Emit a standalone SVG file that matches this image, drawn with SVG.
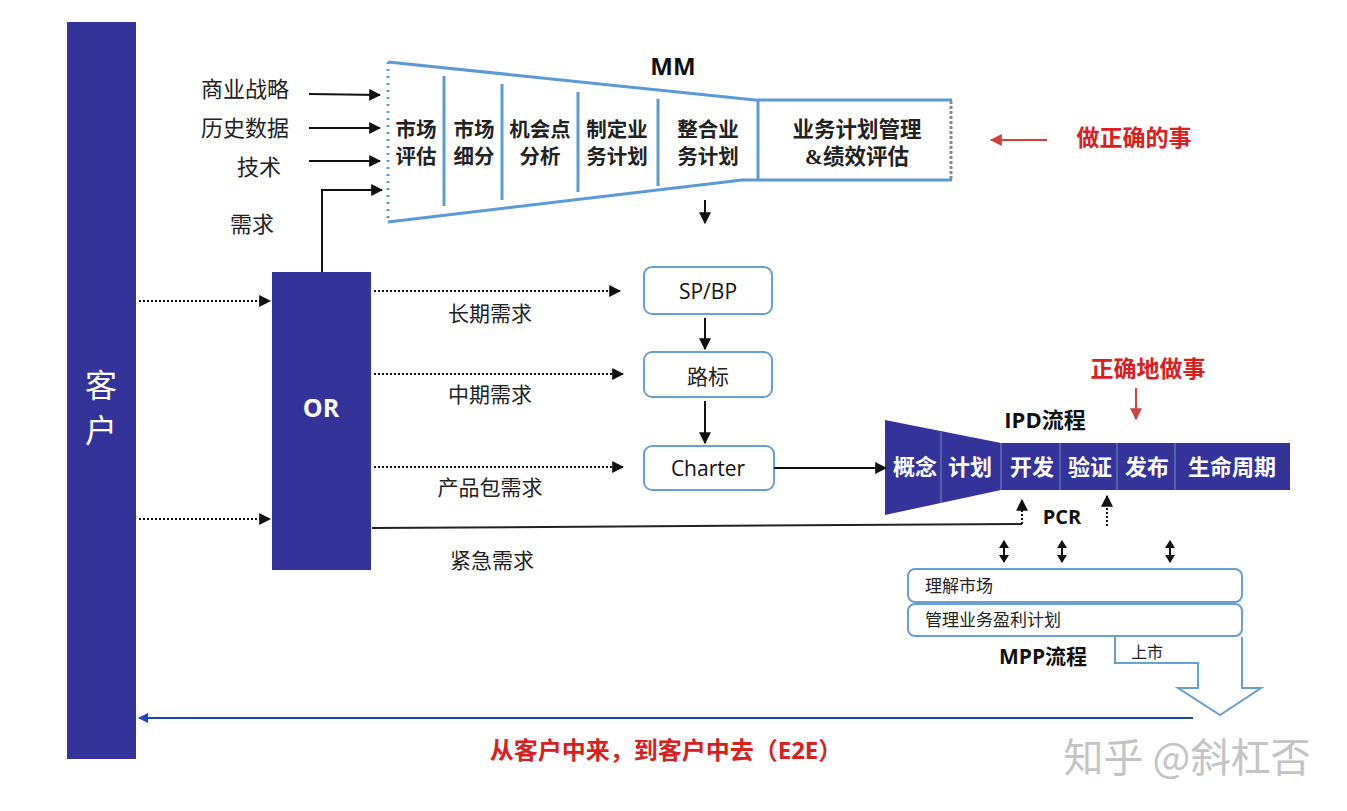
<svg xmlns="http://www.w3.org/2000/svg" width="1347" height="811" viewBox="0 0 1347 811">
<style>
.cn{font-family:"Liberation Serif","Noto Sans CJK SC",serif;fill:#222}
.b{font-family:"Open Sans","Noto Sans CJK SC",sans-serif;font-weight:bold;fill:#111}
.red{fill:#d92020;font-family:"Liberation Serif","Noto Sans CJK SC",serif;font-weight:bold}
.ln{stroke:#111;stroke-width:2;fill:none}
.dot{stroke:#111;stroke-width:2;stroke-dasharray:2 2;fill:none}
.mm{stroke:#5b9bd5;stroke-width:3;fill:none}
.box{fill:#fff;stroke:#6aa0d0;stroke-width:2}
.navy{fill:#333399}
.div{stroke:#7f8fc0;stroke-width:1}
</style>
<defs>
<marker id="ah" viewBox="0 0 10 10" refX="9" refY="5" markerWidth="6" markerHeight="6" orient="auto"><path d="M0,0 L10,5 L0,10 z" fill="#111"/></marker>
<marker id="ahr" viewBox="0 0 10 10" refX="9" refY="5" markerWidth="6" markerHeight="6" orient="auto"><path d="M0,0 L10,5 L0,10 z" fill="#d04040"/></marker>
<marker id="ahb" viewBox="0 0 10 10" refX="9" refY="5" markerWidth="5" markerHeight="5" orient="auto"><path d="M0,0 L10,5 L0,10 z" fill="#1f44c0"/></marker>
</defs>

<g id="customer">
<rect x="67" y="22" width="69" height="737" class="navy"/>
<text x="101" y="397" font-size="32" text-anchor="middle" class="cn" style="fill:#fff">客</text>
<text x="101" y="442" font-size="32" text-anchor="middle" class="cn" style="fill:#fff">户</text>
</g>

<g id="or">
<rect x="272" y="272" width="99" height="298" class="navy"/>
<text x="321" y="417" font-size="25" text-anchor="middle" class="b" style="fill:#fff">OR</text>
</g>

<g id="inputs" font-size="22" text-anchor="middle">
<text x="245" y="97" class="cn">商业战略</text>
<text x="245" y="136" class="cn">历史数据</text>
<text x="259" y="175" class="cn">技术</text>
<text x="252" y="232" class="cn">需求</text>
</g>

<g id="mm">
<line x1="388" y1="62" x2="388" y2="222" stroke="#5b9bd5" stroke-width="3" stroke-dasharray="2 5"/>
<polyline points="388,62 755,100 952,100" class="mm"/>
<polyline points="388,222 742,180 952,180" class="mm"/>
<line x1="758" y1="100" x2="758" y2="180" class="mm"/>
<line x1="951" y1="101" x2="951" y2="179" stroke="#888" stroke-width="3" stroke-dasharray="3 2"/>
<line x1="444" y1="76" x2="444" y2="206" class="mm"/>
<line x1="502" y1="84" x2="502" y2="200" class="mm"/>
<line x1="578" y1="92" x2="578" y2="192" class="mm"/>
<line x1="658" y1="99" x2="658" y2="186" class="mm"/>
<text x="673" y="75" font-size="24" text-anchor="middle" class="b">MM</text>
<g font-size="20.5" text-anchor="middle" class="cn" font-weight="bold">
<text x="416" y="137">市场</text><text x="416" y="164">评估</text>
<text x="474" y="137">市场</text><text x="474" y="164">细分</text>
<text x="540" y="137">机会点</text><text x="540" y="164">分析</text>
<text x="617" y="137">制定业</text><text x="617" y="164">务计划</text>
<text x="708" y="137">整合业</text><text x="708" y="164">务计划</text>
</g>
<g font-size="21.5" text-anchor="middle" class="cn" font-weight="bold">
<text x="857" y="137">业务计划管理</text><text x="857" y="164">&amp;绩效评估</text>
</g>
</g>

<g id="right-thing">
<text x="1134" y="146" font-size="23" text-anchor="middle" class="red">做正确的事</text>
</g>

<g id="spbp"><rect x="644" y="267" width="128" height="47" rx="8" class="box"/>
<text x="708" y="299" font-size="21" text-anchor="middle" font-family="Open Sans,sans-serif" fill="#111">SP/BP</text></g>
<g id="roadmap"><rect x="644" y="352" width="128" height="45" rx="8" class="box"/>
<text x="708" y="384" font-size="21" text-anchor="middle" class="cn">路标</text></g>
<g id="charter"><rect x="644" y="446" width="130" height="44" rx="8" class="box"/>
<text x="708" y="476" font-size="21" text-anchor="middle" font-family="Open Sans,sans-serif" fill="#111">Charter</text></g>

<g id="demand-labels" font-size="21" text-anchor="middle">
<text x="490" y="321" class="cn">长期需求</text>
<text x="490" y="402" class="cn">中期需求</text>
<text x="490" y="495" class="cn">产品包需求</text>
<text x="492" y="568" class="cn">紧急需求</text>
</g>

<g id="ipd">
<path d="M885,420 L1001,443 L1290,443 L1290,490 L1001,490 L885,515 Z" class="navy"/>
<line x1="941" y1="432" x2="941" y2="503" class="div"/>
<line x1="1001" y1="443" x2="1001" y2="490" class="div"/>
<line x1="1060" y1="443" x2="1060" y2="490" class="div"/>
<line x1="1117" y1="443" x2="1117" y2="490" class="div"/>
<line x1="1175" y1="443" x2="1175" y2="490" class="div"/>
<g font-size="22" text-anchor="middle" font-family="Liberation Serif,Noto Sans CJK SC,serif" font-weight="bold" fill="#fff">
<text x="915" y="475">概念</text><text x="970" y="475">计划</text><text x="1032" y="475">开发</text>
<text x="1090" y="475">验证</text><text x="1147" y="475">发布</text><text x="1232" y="475">生命周期</text>
</g>
<text x="1045" y="428" font-size="22" text-anchor="middle" class="b">IPD流程</text>
<text x="1148" y="377" font-size="23" text-anchor="middle" class="red">正确地做事</text>
<text x="1062" y="524" font-size="20" text-anchor="middle" class="b">PCR</text>
</g>

<g id="mpp">
<rect x="908" y="569" width="334" height="33" rx="7" class="box"/>
<text x="925" y="592" font-size="17" class="cn" fill="#333">理解市场</text>
<rect x="908" y="604" width="334" height="32" rx="7" class="box"/>
<text x="925" y="626" font-size="17" class="cn" fill="#333">管理业务盈利计划</text>
<path d="M1115,637 L1115,663 L1198,663 L1198,688 L1178,688 L1220,715 L1261,688 L1242,688 L1242,637" fill="#fff" stroke="#6aa0d0" stroke-width="2"/>
<text x="1131" y="658" font-size="16" class="cn" fill="#333">上市</text>
<text x="1043" y="664" font-size="21" text-anchor="middle" class="b">MPP流程</text>
</g>

<g id="connectors">
<line x1="309" y1="94" x2="380" y2="95" class="ln" marker-end="url(#ah)"/>
<line x1="309" y1="128" x2="380" y2="128" class="ln" marker-end="url(#ah)"/>
<line x1="309" y1="161" x2="380" y2="161" class="ln" marker-end="url(#ah)"/>
<polyline points="322,272 322,190 382,190" class="ln" marker-end="url(#ah)"/>
<line x1="139" y1="301" x2="270" y2="301" class="dot" marker-end="url(#ah)"/>
<line x1="139" y1="519" x2="270" y2="519" class="dot" marker-end="url(#ah)"/>
<line x1="374" y1="291" x2="620" y2="291" class="dot" marker-end="url(#ah)"/>
<line x1="374" y1="374" x2="623" y2="374" class="dot" marker-end="url(#ah)"/>
<line x1="374" y1="467" x2="623" y2="467" class="dot" marker-end="url(#ah)"/>
<line x1="705" y1="200" x2="705" y2="223" class="ln" marker-end="url(#ah)"/>
<line x1="705" y1="318" x2="705" y2="349" class="ln" marker-end="url(#ah)"/>
<line x1="705" y1="401" x2="705" y2="443" class="ln" marker-end="url(#ah)"/>
<line x1="774" y1="468" x2="886" y2="468" class="ln" marker-end="url(#ah)"/>
<line x1="372" y1="528" x2="1022" y2="524" stroke="#222" stroke-width="2"/>
<line x1="1022" y1="524" x2="1022" y2="500" class="dot" marker-end="url(#ah)"/>
<line x1="1107" y1="526" x2="1107" y2="496" class="dot" marker-end="url(#ah)"/>
<line x1="1047" y1="140" x2="991" y2="140" stroke="#d04040" stroke-width="2" marker-end="url(#ahr)"/>
<line x1="1136" y1="388" x2="1136" y2="419" stroke="#d04040" stroke-width="2" marker-end="url(#ahr)"/>
<g class="ln">
<line x1="1004" y1="541" x2="1004" y2="562"/><line x1="1062" y1="541" x2="1062" y2="562"/><line x1="1170" y1="541" x2="1170" y2="562"/>
</g>
<g fill="#111">
<path d="M999,548 L1004,540 L1009,548 Z M999,555 L1004,563 L1009,555 Z"/>
<path d="M1057,548 L1062,540 L1067,548 Z M1057,555 L1062,563 L1067,555 Z"/>
<path d="M1165,548 L1170,540 L1175,548 Z M1165,555 L1170,563 L1175,555 Z"/>
</g>
<line x1="1193" y1="718" x2="139" y2="718" stroke="#1f44c0" stroke-width="2" marker-end="url(#ahb)"/>
</g>

<g id="footer">
<text x="666" y="759" font-size="24" text-anchor="middle" class="red">从客户中来，到客户中去（<tspan font-family="Open Sans,sans-serif">E2E</tspan>）</text>
<text x="1187" y="772" font-size="40" text-anchor="middle" font-family="Noto Sans CJK SC,sans-serif" fill="#c4c4c4">知乎 @斜杠否</text>
</g>
</svg>
